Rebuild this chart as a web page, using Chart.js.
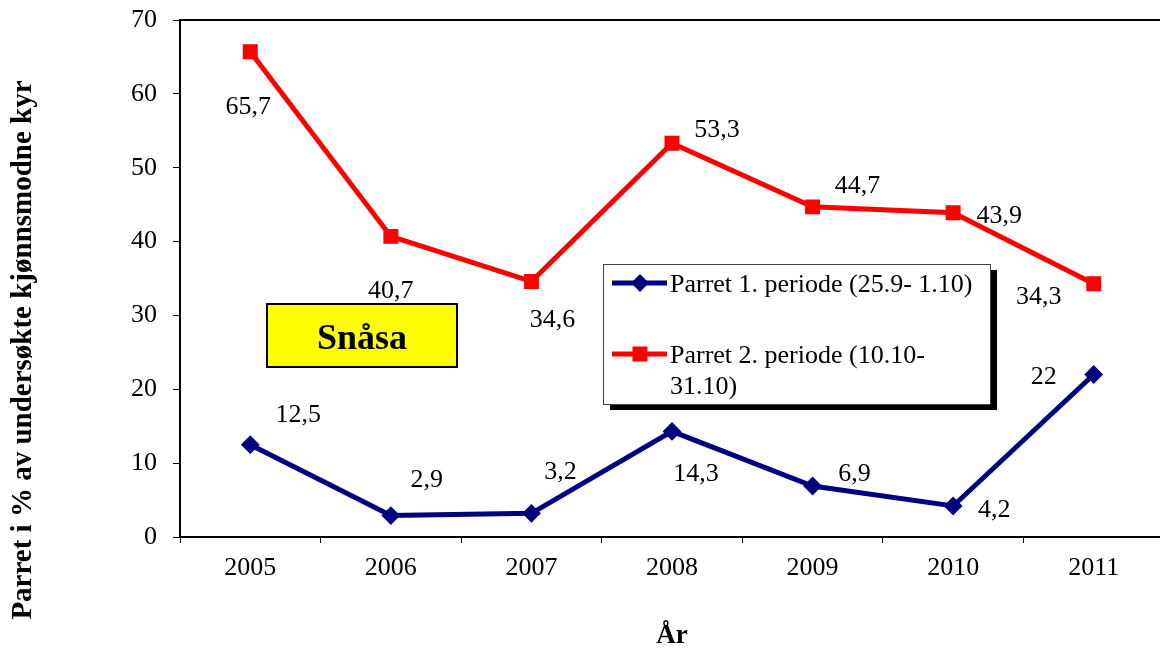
<!DOCTYPE html>
<html>
<head>
<meta charset="utf-8">
<script src="https://cdn.jsdelivr.net/npm/chart.js@4.4.0/dist/chart.umd.min.js"></script>
<style>
    html, body { margin: 0; padding: 0; background: #fff; overflow: hidden; }
    #wrap { width: 1160px; height: 653px; overflow: hidden; }
</style>
</head>
<body>
<div id="wrap"><canvas id="parretChart" width="1175" height="653"></canvas></div>
<script>
const years = ['2005', '2006', '2007', '2008', '2009', '2010', '2011'];
const periode1 = [12.5, 2.9, 3.2, 14.3, 6.9, 4.2, 22];
const periode2 = [65.7, 40.7, 34.6, 53.3, 44.7, 43.9, 34.3];
const seriesNames = ['Parret 1. periode (25.9- 1.10)', 'Parret 2. periode (10.10-31.10)'];
const yTicks = [0, 10, 20, 30, 40, 50, 60, 70];
const stedNavn = 'Snåsa';
const yTitle = 'Parret i % av undersøkte kjønnsmodne kyr';
const xTitle = 'År';

// where each value label sits relative to its point (px)
const labelOffsets1 = [[48, -32], [36, -38], [29, -43], [24, 41], [42, -14], [41, 2], [-50, 0]];
const labelOffsets2 = [[-2, 53], [0, 53], [21, 37], [45, -15], [45, -23], [46, 1], [-55, 11]];

const serif = '"Liberation Serif", "Times New Roman", serif';
const blue = '#000080';
const red = '#ff0000';

function fmt(v) {
    return String(v).replace('.', ',');
}

function wrapText(ctx, text, maxWidth) {
    let parts = text.split(/(?<=[ \-])/);
    let lines = [];
    let line = '';
    parts.forEach(function (p) {
        let test = line + p;
        if (line.length && ctx.measureText(test.trimEnd()).width > maxWidth) {
            lines.push(line.trimEnd());
            line = p.trimStart();
        } else {
            line = test;
        }
    });
    if (line.length) lines.push(line.trimEnd());
    return lines;
}

function drawMarker(ctx, style, x, y, color) {
    ctx.fillStyle = color;
    ctx.beginPath();
    if (style === 'rectRot') {
        ctx.moveTo(x - 9, y);
        ctx.lineTo(x, y - 9);
        ctx.lineTo(x + 9, y);
        ctx.lineTo(x, y + 9);
    } else {
        ctx.rect(x - 7.5, y - 7.5, 15, 15);
    }
    ctx.closePath();
    ctx.fill();
}

const extras = {
    id: 'extras',
    afterDatasetsDraw(chart) {
        const ctx = chart.ctx;
        const area = chart.chartArea;
        ctx.save();

        // frame line along the top of the plot
        ctx.strokeStyle = '#000';
        ctx.lineWidth = 2;
        ctx.beginPath();
        ctx.moveTo(area.left, area.top);
        ctx.lineTo(area.right, area.top);
        ctx.lineTo(area.right, area.bottom);
        ctx.stroke();

        // place name box
        ctx.fillStyle = '#ffff00';
        ctx.fillRect(267, 304, 190, 63);
        ctx.strokeStyle = '#000';
        ctx.lineWidth = 2;
        ctx.strokeRect(267, 304, 190, 63);
        ctx.fillStyle = '#000';
        ctx.font = 'bold 36px ' + serif;
        ctx.textAlign = 'center';
        ctx.textBaseline = 'alphabetic';
        ctx.fillText(stedNavn, 362, 349);

        // value labels
        ctx.font = '26px ' + serif;
        ctx.fillStyle = '#000';
        const offsets = [labelOffsets1, labelOffsets2];
        chart.data.datasets.forEach(function (ds, di) {
            const meta = chart.getDatasetMeta(di);
            meta.data.forEach(function (pt, i) {
                const off = offsets[di][i];
                ctx.fillText(fmt(ds.data[i]), pt.x + off[0], pt.y + off[1] + 9);
            });
        });

        // legend with drop shadow
        const lx = 603, ly = 264, lw = 387, lh = 140;
        ctx.fillStyle = '#000';
        ctx.fillRect(lx + 7, ly + 6, lw, lh);
        ctx.fillStyle = '#fff';
        ctx.fillRect(lx, ly, lw, lh);
        ctx.strokeStyle = '#444';
        ctx.lineWidth = 1;
        ctx.strokeRect(lx + 0.5, ly + 0.5, lw, lh);

        ctx.font = '26px ' + serif;
        ctx.textAlign = 'left';
        let rowY = [283, 354];
        chart.data.datasets.forEach(function (ds, di) {
            const y = rowY[di];
            ctx.strokeStyle = ds.borderColor;
            ctx.lineWidth = 5;
            ctx.beginPath();
            ctx.moveTo(612, y);
            ctx.lineTo(667, y);
            ctx.stroke();
            drawMarker(ctx, ds.pointStyle, 640, y, ds.borderColor);
            ctx.fillStyle = '#000';
            const lines = wrapText(ctx, ds.label, 318);
            lines.forEach(function (t, k) {
                ctx.fillText(t, 670, y + 9 + k * 31);
            });
        });

        // rotated y axis title
        ctx.save();
        ctx.translate(24, 350);
        ctx.rotate(-Math.PI / 2);
        ctx.textAlign = 'center';
        ctx.textBaseline = 'middle';
        ctx.font = 'bold 29px ' + serif;
        ctx.fillStyle = '#000';
        ctx.fillText(yTitle, 0, 0);
        ctx.restore();

        ctx.restore();
    }
};

const ctx = document.getElementById('parretChart').getContext('2d');
const parretChart = new Chart(ctx, {
    type: 'line',
    data: {
        labels: years,
        datasets: [
            {
                label: seriesNames[0],
                data: periode1,
                borderColor: blue,
                backgroundColor: blue,
                borderWidth: 5,
                pointStyle: 'rectRot',
                pointRadius: 8,
                pointBorderWidth: 2,
                tension: 0,
                fill: false
            },
            {
                label: seriesNames[1],
                data: periode2,
                borderColor: red,
                backgroundColor: red,
                borderWidth: 5,
                pointStyle: 'rect',
                pointRadius: 9.5,
                pointBorderWidth: 1.5,
                tension: 0,
                fill: false
            }
        ]
    },
    options: {
        responsive: false,
        animation: false,
        events: [],
        layout: {
            padding: { left: 0, right: 10, top: 20, bottom: 0 }
        },
        plugins: {
            legend: { display: false },
            tooltip: { enabled: false }
        },
        scales: {
            x: {
                offset: true,
                grid: {
                    offset: true,
                    drawOnChartArea: false,
                    drawTicks: true,
                    tickLength: 6,
                    color: '#000',
                    lineWidth: 1
                },
                border: { color: '#000', width: 2 },
                ticks: {
                    color: '#000',
                    padding: 10,
                    maxRotation: 0,
                    font: { family: serif, size: 26 }
                },
                title: {
                    display: true,
                    text: xTitle,
                    color: '#000',
                    padding: { top: 0, bottom: 1 },
                    font: { family: serif, size: 27, weight: 'bold' }
                },
                afterFit: function (scale) {
                    scale.height = 116;
                    scale.paddingLeft = 0;
                    scale.paddingRight = 0;
                }
            },
            y: {
                min: 0,
                max: 70,
                grid: {
                    drawOnChartArea: false,
                    drawTicks: true,
                    tickLength: 7,
                    color: '#000',
                    lineWidth: 1
                },
                border: { color: '#000', width: 2 },
                afterBuildTicks: function (scale) {
                    scale.ticks = yTicks.map(function (v) { return { value: v }; });
                },
                ticks: {
                    color: '#000',
                    padding: 16,
                    font: { family: serif, size: 26 }
                },
                afterFit: function (scale) {
                    scale.width = 180;
                    scale.paddingTop = 0;
                    scale.paddingBottom = 0;
                }
            }
        }
    },
    plugins: [extras]
});
</script>
</body>
</html>
